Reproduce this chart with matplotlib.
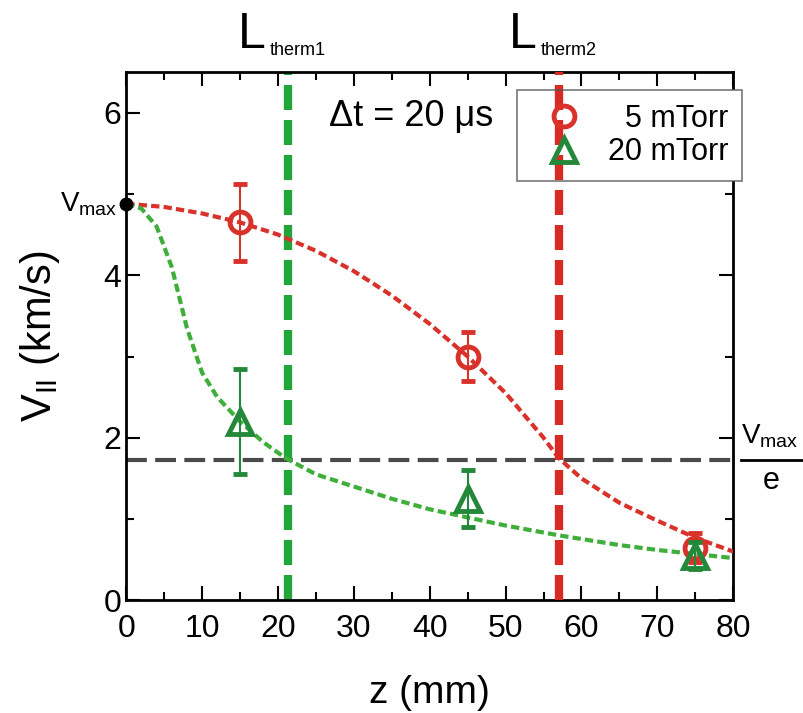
import matplotlib
matplotlib.use("Agg")
import matplotlib.pyplot as plt
from matplotlib.ticker import MultipleLocator
from matplotlib.lines import Line2D
from matplotlib.patches import Rectangle

plt.rcParams['font.family'] = ['Liberation Sans', 'DejaVu Sans']

# measured data
z_meas = [15, 45, 75]
v5 = [4.65, 3.0, 0.65]
e5 = [0.47, 0.30, 0.18]
v20 = [2.2, 1.25, 0.55]
e20 = [0.65, 0.35, 0.17]

# fitted curves
z_fit5 = [0, 5, 10, 15, 20, 25, 30, 35, 40, 45, 50, 55, 57, 60, 65, 70, 75, 80]
v_fit5 = [4.88, 4.84, 4.76, 4.65, 4.5, 4.3, 4.05, 3.75, 3.4, 3.0, 2.55, 2.0, 1.75, 1.5, 1.2, 0.98, 0.77, 0.6]
z_fit20 = [0, 2, 4, 6, 8, 10, 12, 15, 18, 21, 25, 30, 35, 40, 45, 50, 57, 65, 70, 75, 80]
v_fit20 = [4.88, 4.82, 4.6, 4.1, 3.35, 2.8, 2.5, 2.2, 1.95, 1.75, 1.55, 1.4, 1.25, 1.12, 1.02, 0.92, 0.8, 0.68, 0.62, 0.57, 0.52]

v_max = 4.88
v_e = 1.73
L_therm = [21.3, 57]
L_names = ['therm1', 'therm2']
legend_labels = ['  5 mTorr', '20 mTorr']

red = '#d8322b'
green_line = '#3fae3a'
green_mark = '#23883a'

fig = plt.figure(figsize=(8.04, 7.13), dpi=100)
ax = fig.add_axes([0.157, 0.158, 0.755, 0.741])

ax.plot(z_fit5, v_fit5, color=red, lw=3, ls=(0, (2, 1)), zorder=3)
ax.plot(z_fit20, v_fit20, color=green_line, lw=3, ls=(0, (2, 1)), zorder=3)

ax.axhline(v_e, color='#4a4a4a', lw=3, ls=(0, (5, 2)), zorder=2)
ax.axvline(L_therm[0], color='#22a63a', lw=6, ls=(0, (3, 1.2)), zorder=2)
ax.axvline(L_therm[1], color='#d82a25', lw=6, ls=(0, (3, 1.2)), zorder=4.5)

ax.errorbar(z_meas, v5, yerr=e5, fmt='o', mfc='none', mec=red, ecolor=red,
            ms=15, mew=3.5, capsize=5, elinewidth=1.5, capthick=1.5, zorder=5)
ax.errorbar(z_meas, v20, yerr=e20, fmt='^', mfc='none', mec=green_mark, ecolor=green_mark,
            ms=17, mew=3.5, capsize=5, elinewidth=1.5, capthick=1.5, zorder=6)

ax.plot([0], [v_max], 'o', color='black', ms=9, clip_on=False, zorder=7)

ax.set_xlim(0, 80)
ax.set_ylim(0, 6.5)
ax.xaxis.set_major_locator(MultipleLocator(10))
ax.xaxis.set_minor_locator(MultipleLocator(5))
ax.yaxis.set_major_locator(MultipleLocator(2))
ax.yaxis.set_minor_locator(MultipleLocator(1))
ax.tick_params(which='both', direction='in', top=True, right=True, labelsize=23, width=1.5)
ax.tick_params(which='major', length=10)
ax.tick_params(which='minor', length=6)
ax.tick_params(axis='x', pad=10)
for s in ax.spines.values():
    s.set_linewidth(2)

ax.set_xlabel('z (mm)', fontsize=28, labelpad=22)
ax.set_ylabel(r'V$_{\mathregular{II}}$ (km/s)', fontsize=30, labelpad=30)

ax.text(-1.2, v_max, r'V$_{\mathregular{max}}$', ha='right', va='center', fontsize=20)
ax.text(81, v_e + 0.12, r'V$_{\mathregular{max}}$', ha='left', va='bottom', fontsize=20,
        clip_on=False)
ax.plot([81, 89], [v_e, v_e], color='black', lw=2, clip_on=False)
ax.text(85, v_e - 0.08, 'e', ha='center', va='top', fontsize=22, clip_on=False)

for xl, nm in zip(L_therm, L_names):
    ax.annotate('L', xy=(xl, 1), xycoords=('data', 'axes fraction'),
                xytext=(-16, 17), textcoords='offset points',
                ha='right', va='baseline', fontsize=36, annotation_clip=False)
    ax.annotate(nm, xy=(xl, 1), xycoords=('data', 'axes fraction'),
                xytext=(-13, 12), textcoords='offset points',
                ha='left', va='baseline', fontsize=13, annotation_clip=False)

ax.text(37.5, 5.95, 'Δt = 20 μs', ha='center', va='center', fontsize=26)

handles = [
    Line2D([], [], ls='none', marker='o', mfc='none', mec=red, ms=15, mew=3.5),
    Line2D([], [], ls='none', marker='^', mfc='none', mec=green_mark, ms=17, mew=3.5),
]
leg = ax.legend(handles, legend_labels, loc='upper right',
                bbox_to_anchor=(1.0145, 0.966), borderaxespad=0, fontsize=22,
                frameon=True, fancybox=False, edgecolor='#555555', handletextpad=0.33,
                handlelength=2.2, borderpad=0.45, labelspacing=0.12)
leg.get_frame().set_linewidth(1.2)
leg.get_frame().set_facecolor('none')
leg.set_zorder(10)

# white background behind the legend (under the red threshold line)
fig.canvas.draw()
bb = leg.get_frame().get_window_extent().transformed(ax.transAxes.inverted())
ax.add_patch(Rectangle((bb.x0, bb.y0), bb.width, bb.height, transform=ax.transAxes,
                       facecolor='white', edgecolor='none', zorder=4, clip_on=False))

fig.savefig('out.png', dpi=100)
